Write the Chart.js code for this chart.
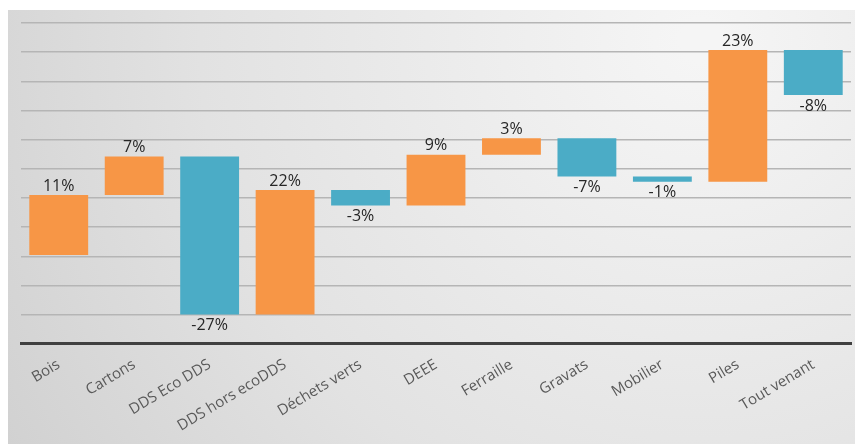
<!DOCTYPE html>
<html>
<head>
<meta charset="utf-8">
<script src="https://cdn.jsdelivr.net/npm/chart.js@4.4.1/dist/chart.umd.min.js"></script>
<style>
  html, body { margin: 0; padding: 0; background: #fff; }
  #wrap { width: 855px; height: 444px; }
</style>
</head>
<body>
<div id="wrap"><canvas id="waterfall"></canvas></div>
<script>
const categories = ['Bois', 'Cartons', 'DDS Eco DDS', 'DDS hors ecoDDS', 'Déchets verts', 'DEEE', 'Ferraille', 'Gravats', 'Mobilier', 'Piles', 'Tout venant'];
// bottom and top of each floating bar (in gridline units)
const barStart = [3.04, 5.1, 1.0, 1.0, 4.74, 4.74, 6.48, 5.74, 5.56, 5.56, 8.53];
const barEnd = [5.1, 6.42, 6.42, 5.27, 5.27, 6.48, 7.05, 7.05, 5.74, 10.07, 10.07];
// variation shown as label, in percent
const variation = [11, 7, -27, 22, -3, 9, 3, -7, -1, 23, -8];

const UP = '#F79646';
const DOWN = '#4BACC6';

const panelBg = {
    id: 'panelBg',
    beforeDraw(chart) {
        const ctx = chart.ctx;
        ctx.save();
        const g = ctx.createRadialGradient(700, 40, 20, 700, 40, 820);
        g.addColorStop(0, '#f5f5f5');
        g.addColorStop(0.6, '#e2e2e2');
        g.addColorStop(1, '#d0d0d0');
        ctx.fillStyle = g;
        ctx.fillRect(8, 10, chart.width - 8, chart.height - 10);
        ctx.restore();
    }
};

const valueLabels = {
    id: 'valueLabels',
    afterDatasetsDraw(chart) {
        const ctx = chart.ctx;
        const meta = chart.getDatasetMeta(0);
        ctx.save();
        ctx.font = '16px "Open Sans"';
        ctx.fillStyle = '#262626';
        ctx.textAlign = 'center';
        meta.data.forEach((bar, i) => {
            const top = Math.min(bar.y, bar.base);
            const bottom = Math.max(bar.y, bar.base);
            const txt = variation[i] + '%';
            if (variation[i] >= 0) {
                ctx.textBaseline = 'bottom';
                ctx.fillText(txt, bar.x, top - 1);
            } else {
                ctx.textBaseline = 'top';
                ctx.fillText(txt, bar.x, bottom + 3);
            }
        });
        ctx.restore();
    }
};

new Chart(document.getElementById('waterfall').getContext('2d'), {
    type: 'bar',
    data: {
        labels: categories,
        datasets: [{
            data: categories.map((c, i) => [barStart[i], barEnd[i]]),
            backgroundColor: variation.map(v => v >= 0 ? UP : DOWN),
            borderWidth: 0,
            barPercentage: 0.78,
            categoryPercentage: 1.0
        }]
    },
    options: {
        responsive: true,
        maintainAspectRatio: false,
        animation: false,
        layout: { padding: { left: 21, right: 4, top: 23, bottom: 5 } },
        plugins: { legend: { display: false }, tooltip: { enabled: false } },
        scales: {
            x: {
                grid: { display: false },
                border: { color: '#404040', width: 3 },
                ticks: {
                    color: '#595959',
                    font: { family: 'Open Sans', size: 15 },
                    minRotation: 31,
                    maxRotation: 31,
                    padding: 4,
                    autoSkip: false
                }
            },
            y: {
                min: 0,
                max: 11,
                ticks: { display: false, stepSize: 1 },
                border: { display: false },
                grid: {
                    color: ctx => ctx.tick && ctx.tick.value === 0 ? 'rgba(0,0,0,0)' : '#b5b5b5',
                    lineWidth: 1.5,
                    drawTicks: false
                }
            }
        }
    },
    plugins: [panelBg, valueLabels]
});
</script>
</body>
</html>
